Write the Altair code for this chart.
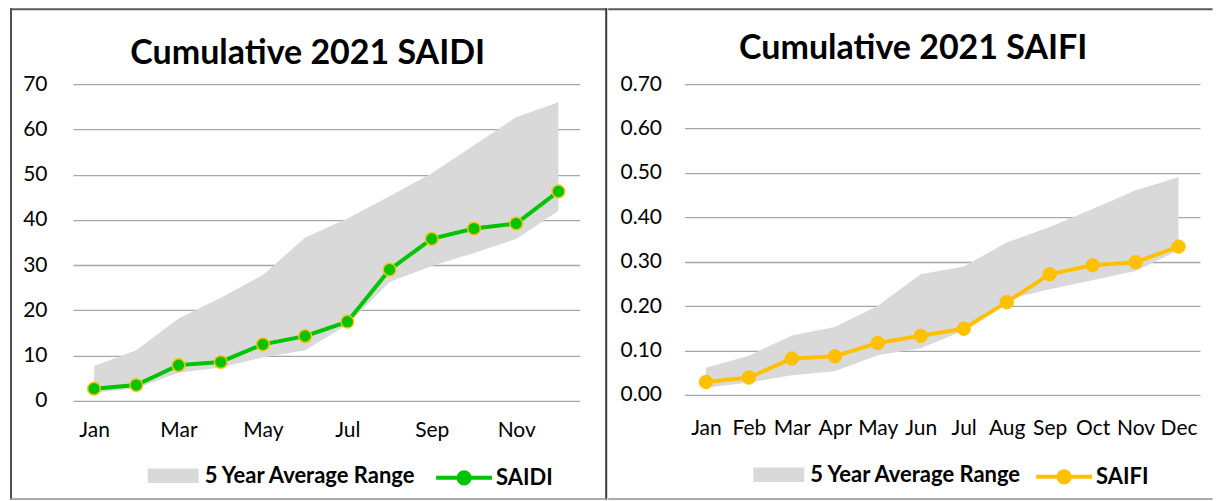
import altair as alt
import pandas as pd

months = ["Jan", "Feb", "Mar", "Apr", "May", "Jun", "Jul", "Aug", "Sep", "Oct", "Nov", "Dec"]

saidi = [2.7, 3.5, 7.9, 8.6, 12.5, 14.3, 17.5, 29.0, 35.8, 38.1, 39.2, 46.3]
saidi_low = [1.8, 2.8, 6.2, 7.4, 9.6, 11.2, 16.8, 26.3, 29.8, 32.7, 35.8, 42.0]
saidi_high = [7.7, 11.2, 18.2, 22.8, 27.8, 36.1, 40.3, 45.2, 50.3, 56.5, 62.7, 66.0]

saifi = [0.029, 0.039, 0.082, 0.087, 0.117, 0.133, 0.149, 0.209, 0.272, 0.292, 0.299, 0.334]
saifi_low = [0.016, 0.028, 0.044, 0.053, 0.089, 0.105, 0.145, 0.215, 0.238, 0.258, 0.279, 0.326]
saifi_high = [0.061, 0.088, 0.134, 0.153, 0.201, 0.272, 0.289, 0.343, 0.378, 0.419, 0.461, 0.490]

saidi_ticks = [0, 10, 20, 30, 40, 50, 60, 70]
saifi_ticks = [0.0, 0.1, 0.2, 0.3, 0.4, 0.5, 0.6, 0.7]
saidi_month_labels = ["Jan", "Mar", "May", "Jul", "Sep", "Nov"]

BAND = "5 Year Average Range"
GREEN = "#00c400"
GOLD = "#ffc000"
FONT = "Lato"

RECT_PATH = "M-1,-0.284H1V0.284H-1Z"
LINE_PATH = "M-1,0H1M-0.2,0A0.2,0.2,0,1,1,0.2,0A0.2,0.2,0,1,1,-0.2,0Z"


def deco_rect(x1, x2, y1, y2, color):
    return alt.Chart(alt.Data(values=[{}])).mark_rect(color=color).encode(
        x=alt.value(x1), x2=alt.value(x2), y=alt.value(y1), y2=alt.value(y2)
    )


def panel(title, vals, low, high, name, line_color, pt_fill, pt_stroke, pt_size, pt_sw,
          dmax, ticks, fmt, xvals, W, H, ylabpad, xlabpad, frame, title_xy, leg):
    df = pd.DataFrame({"month": months, "value": vals, "low": low, "high": high,
                       "band": BAND, "series": name})
    xax = alt.Axis(values=xvals, labelAngle=0, title=None, grid=False, domain=False,
                   ticks=False, tickSize=0, labelPadding=xlabpad, labelOverlap=False,
                   labelFont=FONT, labelFontSize=21, labelColor="black")
    x = alt.X("month:O", sort=months, scale=alt.Scale(type="point", padding=0.5), axis=xax)
    yax = alt.Axis(values=ticks, format=fmt, title=None, grid=True, gridColor="#a6a6a6",
                   gridWidth=1.3, domain=False, ticks=False, tickSize=0, labelPadding=ylabpad,
                   labelFont=FONT, labelFontSize=21, labelColor="black")
    ysc = alt.Scale(domain=[0, dmax], nice=False, zero=True)

    base = alt.Chart(df)
    area = base.mark_area(opacity=1).encode(
        x=x,
        y=alt.Y("low:Q", scale=ysc, axis=yax),
        y2="high:Q",
        fill=alt.Fill("band:N", scale=alt.Scale(domain=[BAND], range=["#d9d9d9"]),
                      legend=alt.Legend(orient="none", legendX=leg[0], legendY=leg[1],
                                        title=None, symbolType=RECT_PATH, symbolSize=2601,
                                        symbolStrokeWidth=0, symbolOpacity=1,
                                        labelFont=FONT, labelFontSize=22, labelLimit=500,
                                        labelFontWeight="bold", labelColor="black",
                                        labelOffset=6, padding=0)),
    )
    line = base.mark_line(strokeWidth=4).encode(
        x=x,
        y=alt.Y("value:Q", scale=ysc, axis=yax),
        stroke=alt.Stroke("series:N", scale=alt.Scale(domain=[name], range=[line_color]),
                          legend=alt.Legend(orient="none", legendX=leg[2], legendY=leg[3],
                                            title=None, symbolType=LINE_PATH, symbolSize=3136,
                                            symbolStrokeWidth=4, symbolFillColor=line_color,
                                            symbolOpacity=1, labelLimit=500,
                                            labelFont=FONT, labelFontSize=22,
                                            labelFontWeight="bold", labelColor="black",
                                            labelOffset=2, padding=0)),
    )
    pts = base.mark_point(filled=True, shape="circle", size=pt_size, fill=pt_fill,
                          stroke=pt_stroke, strokeWidth=pt_sw, opacity=1).encode(
        x=x, y=alt.Y("value:Q", scale=ysc, axis=yax)
    )
    ttl = alt.Chart(alt.Data(values=[{}])).mark_text(
        text=title, font=FONT, fontSize=34, fontWeight="bold", align="center",
        baseline="alphabetic", color="black"
    ).encode(x=alt.value(title_xy[0]), y=alt.value(title_xy[1]))

    layers = [deco_rect(*f) for f in frame] + [area, line, pts, ttl]
    return alt.layer(*layers).properties(width=W, height=H)


# both panels: plot origin at page y = 84; left x = 73, right x = 684
left_frame = [
    (-63, 534.7, -76, -74, "#595959"),      # top line
    (-63, -61, -76, 416, "#505050"),        # left line
    (532.7, 534.7, -76, 416, "#3a3a3a"),    # divider
    (-63, 534.7, 414.5, 416, "#8f8f8f"),    # bottom line
]
right_frame = [
    (-76.3, 528.5, -76, -74, "#595959"),
    (-76.3, 528.5, 414.5, 416, "#8f8f8f"),
]

left = panel("Cumulative 2021 SAIDI", saidi, saidi_low, saidi_high, "SAIDI",
             GREEN, GREEN, GOLD, 160, 1.5, 70, saidi_ticks, "d", saidi_month_labels,
             507, 317, 26, 19, left_frame, (235, -20), (74.8, 366.5, 361.5, 364))
right = panel("Cumulative 2021 SAIFI", saifi, saifi_low, saifi_high, "SAIFI",
              GOLD, GOLD, GOLD, 180, 1, 0.7, saifi_ticks, ".2f", months,
              516, 311, 23, 23, right_frame, (229, -25.5), (69, 365.5, 350, 363))

chart = alt.hconcat(left, right, spacing=0).resolve_scale(
    fill="independent", stroke="independent"
).resolve_legend(
    fill="independent", stroke="independent"
).properties(
    padding={"left": 2, "top": 0, "right": 0, "bottom": 0},
    background="white",
).configure_view(stroke=None)

chart.save("out.html", embed_options={"renderer": "svg", "actions": False})
